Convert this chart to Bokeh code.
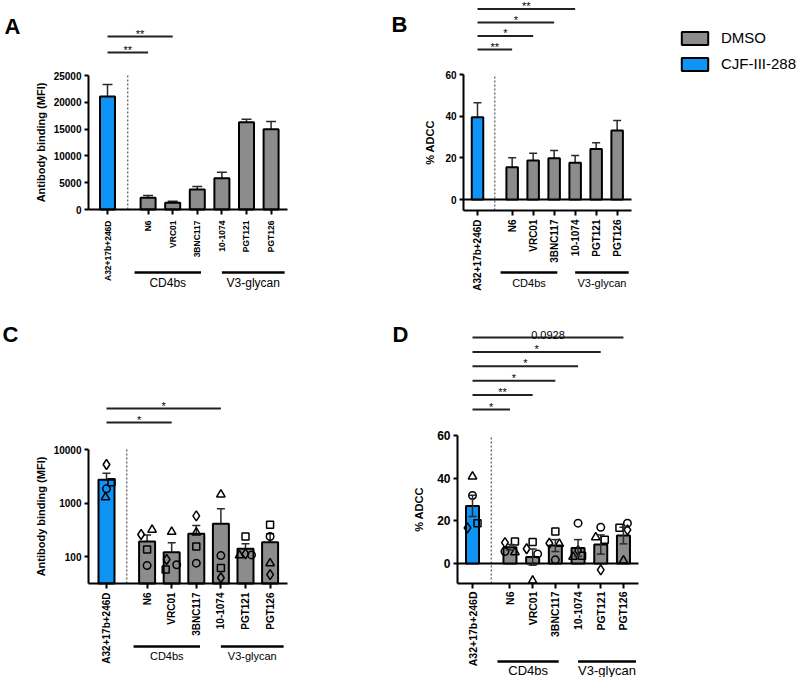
import math
from bokeh.plotting import figure
from bokeh.layouts import row, column
from bokeh.models import (Range1d, FixedTicker, LinearAxis, LogAxis, Whisker, TeeHead, Grid,
                          ColumnDataSource, Legend, LegendItem, NumeralTickFormatter)
from bokeh.core.properties import value
from bokeh.embed import file_html
from bokeh.resources import INLINE

# ---------------- data ----------------
categories = ["A32+17b+246D", "N6", "VRC01", "3BNC117", "10-1074", "PGT121", "PGT126"]
treatment = ["CJF-III-288", "DMSO", "DMSO", "DMSO", "DMSO", "DMSO", "DMSO"]
group_names = ["CD4bs", "V3-glycan"]
group_members = [["N6", "VRC01", "3BNC117"], ["10-1074", "PGT121", "PGT126"]]

# Panel A: antibody binding (MFI), mean + SEM
a_mean = [21080, 2180, 1240, 3730, 5850, 16290, 14990]
a_sem = [2240, 430, 310, 560, 1120, 560, 1430]
a_yticks = [0, 5000, 10000, 15000, 20000, 25000]
a_sig = [["N6", "**"], ["VRC01", "**"]]

# Panel B: % ADCC, mean + SEM
b_mean = [39.5, 15.5, 18.7, 19.8, 17.6, 24.3, 33.1]
b_sem = [6.9, 4.5, 3.5, 3.7, 3.5, 2.9, 4.8]
b_yticks = [0, 20, 40, 60]
b_sig = [["N6", "**"], ["VRC01", "*"], ["3BNC117", "*"], ["10-1074", "**"]]

# Panel C: antibody binding (MFI) per donor, log axis
c_mean = [2710, 190, 120, 265, 408, 139, 185]
c_sem = [895, 62, 60, 114, 370, 34, 81]
c_diamond = [5250, 258, 88, 575, 40, 112, 46]
c_square = [2450, 135, 57, 154, 61, 237, 391]
c_circle = [1840, 68, 70, 75, 104, 107, 237]
c_triangle = [1285, 316, 289, 281, 1442, 105, 75]
c_yticks = [100, 1000, 10000]
c_sig = [["VRC01", "*"], ["10-1074", "*"]]

# Panel D: % ADCC per donor
d_mean = [27.0, 7.6, 3.0, 8.4, 7.3, 8.9, 13.1]
d_sem = [5.0, 1.3, 3.8, 2.8, 3.9, 4.5, 3.9]
d_diamond = [16.7, 9.8, 6.9, 9.5, 6.0, -3.0, 15.8]
d_square = [18.9, 10.3, 10.1, 15.0, 3.6, 11.1, 16.7]
d_circle = [31.9, 5.6, 4.5, 1.7, 18.9, 17.0, 18.9]
d_triangle = [40.8, 5.3, -8.0, 9.2, 3.2, 12.3, 1.4]
d_yticks = [0, 20, 40, 60]
d_sig = [["N6", "*"], ["VRC01", "**"], ["3BNC117", "*"], ["10-1074", "*"],
         ["PGT121", "*"], ["PGT126", "0.0928"]]

# ---------------- style / layout ----------------
FONT = "Liberation Sans"
BLUE = "#0F93F4"
GRAY = "#8C8C8C"
COLORS = {"CJF-III-288": BLUE, "DMSO": GRAY}
MARKERS = [("diamond", 10), ("square", 7), ("circle", 7.5), ("triangle", 8.5)]

# horizontal jitter of donor points (px)
c_jitter = {"diamond": [0, -6, -5, 0, 0, 0, 0], "square": [5, 0, -6, 0, 0, 0, 0],
            "circle": [0, 0, 5, 0, 0, 6, 0], "triangle": [-1, 5, 0, 0, 0, -6, 0]}
d_jitter = {"diamond": [-5, -5, -6, -6, 0, 0, 4], "square": [5, 5, 0, 0, 4, 4, -4],
            "circle": [0, -5, 5, 0, 0, 0, 4], "triangle": [0, 5, 0, 4, -5, -5, 0]}


def txt(p, x, y, t, size, style="normal", align="center", baseline="middle", y_offset=0):
    p.text(x=x, y=y, text=t, text_font=value(FONT), text_font_size=value(size),
           text_font_style=style, text_align=align, text_baseline=baseline,
           text_color="black", y_offset=y_offset)


def style_axis(a, tick_size, label_size="11px"):
    a.axis_line_width = 2
    a.axis_line_color = "black"
    a.major_tick_line_width = 2
    a.major_tick_line_color = "black"
    a.major_tick_out = 4
    a.major_tick_in = 0
    a.minor_tick_line_color = None
    a.major_label_text_font = FONT
    a.major_label_text_font_style = "bold"
    a.major_label_text_font_size = tick_size
    a.major_label_text_color = "black"
    a.axis_label_text_font = FONT
    a.axis_label_text_font_style = "bold"
    a.axis_label_text_font_size = label_size
    a.axis_label_text_color = "black"


def build(cfg, mean, sem, sig, pts=None, jitter=None):
    x0, y0, W, H = cfg["box"]
    ax, ppx = cfg["ax"], cfg["ppx"]
    log = cfg["log"]
    yp0, yv0, ppy = cfg["yp0"], cfg["yv0"], cfg["ppy"]
    if log:
        p2v = lambda pg: 10 ** (yv0 + (yp0 - pg) / ppy)
    else:
        p2v = lambda pg: yv0 + (yp0 - pg) / ppy
    px2x = lambda pg: (pg - ax) / ppx

    xpos = [0.0] + [cfg["gap"] + i for i in range(len(categories) - 1)]
    pos = dict(zip(categories, xpos))

    p = figure(width=W, height=H, x_range=Range1d(px2x(x0), px2x(x0 + W)),
               y_range=Range1d(p2v(y0 + H), p2v(y0)),
               y_axis_type="log" if log else "linear",
               x_axis_location=None, y_axis_location=None,
               output_backend="svg", toolbar_location=None)
    p.min_border_left = p.min_border_right = p.min_border_top = p.min_border_bottom = 0
    p.outline_line_color = None
    p.background_fill_color = "white"
    p.border_fill_color = "white"
    for r in list(p.center) + list(p.renderers):
        if isinstance(r, Grid):
            r.visible = False
    p.grid.visible = False

    yloc = px2x(cfg["yaxis_px"])
    xend = px2x(cfg["xend_px"])
    ylo = p2v(cfg["xaxis_px"])
    yhi = max(cfg["yticks"])

    # y axis
    YA = LogAxis if log else LinearAxis
    ya = YA(fixed_location=yloc, bounds=(ylo, yhi),
            ticker=FixedTicker(ticks=cfg["yticks"], minor_ticks=[]),
            formatter=NumeralTickFormatter(format="0"),
            axis_label=cfg["ylabel"])
    style_axis(ya, cfg["ytick_size"])
    ya.major_label_standoff = 3
    ya.axis_label_standoff = cfg["ylabel_standoff"]
    p.add_layout(ya, "left")

    # x axis
    xa = LinearAxis(fixed_location=ylo, bounds=(yloc, xend),
                    ticker=FixedTicker(ticks=xpos, minor_ticks=[]),
                    major_label_overrides={xv: c for xv, c in zip(xpos, categories)},
                    major_label_orientation=math.pi / 2)
    style_axis(xa, cfg["xtick_size"])
    xa.major_tick_out = 5
    xa.major_label_standoff = cfg["xlabel_standoff"]
    p.add_layout(xa, "below")

    # dotted separator
    mid = (xpos[0] + xpos[1]) / 2
    p.segment(x0=[mid], y0=[ylo], x1=[mid], y1=[yhi], line_color="#333333",
              line_width=1, line_dash="2 2")

    bar_bottom = ylo if log else 0
    if cfg["zero_line"]:
        p.segment(x0=[yloc], y0=[0], x1=[xend], y1=[0], line_color="black", line_width=2)

    # error bars
    both = cfg["both_err"]
    upper = [m + s for m, s in zip(mean, sem)]
    lower = [m - s for m, s in zip(mean, sem)] if both else list(mean)
    wsrc = ColumnDataSource(dict(x=xpos, upper=upper, lower=lower))
    ec = "#2a2a2a"
    w = Whisker(source=wsrc, base="x", upper="upper", lower="lower",
                line_color=ec, line_width=1.5,
                upper_head=TeeHead(size=cfg["cap"], line_color=ec, line_width=1.5),
                lower_head=TeeHead(size=cfg["cap"], line_color=ec, line_width=1.5) if both else None,
                level="overlay" if both else "underlay")

    # bars per treatment
    bw = cfg["bar_px"] / ppx
    rends = {}
    for t in ["DMSO", "CJF-III-288"]:
        idx = [i for i, tt in enumerate(treatment) if tt == t]
        rends[t] = p.vbar(x=[xpos[i] for i in idx], top=[mean[i] for i in idx],
                          bottom=bar_bottom, width=bw, fill_color=COLORS[t],
                          line_color="black", line_width=2)
    p.add_layout(w)

    # donor points
    if pts is not None:
        for m, size in MARKERS:
            vals = pts[m]
            xs = [xpos[i] + jitter[m][i] / ppx for i in range(len(vals))]
            p.scatter(x=xs, y=vals, marker=m, size=size, fill_color=None,
                      line_color="black", line_width=1.5)

    # significance brackets
    for k, (target, lab) in enumerate(sig):
        yy = p2v(cfg["sig_base_px"] - k * cfg["sig_step_px"])
        p.segment(x0=[xpos[0]], y0=[yy], x1=[pos[target]], y1=[yy],
                  line_color="#222222", line_width=2)
        txt(p, [(xpos[0] + pos[target]) / 2], [yy], [lab], cfg["sig_size"],
            baseline="alphabetic", y_offset=-3)

    # group underlines and labels
    pads = [(-0.55, 0.15), (0.0, 0.55)]
    gy = p2v(cfg["xaxis_px"] + cfg["group_line_off"])
    gty = p2v(cfg["xaxis_px"] + cfg["group_text_off"])
    for name, members, (pl, pr) in zip(group_names, group_members, pads):
        xa0 = pos[members[0]] + pl
        xa1 = pos[members[-1]] + pr
        p.segment(x0=[xa0], y0=[gy], x1=[xa1], y1=[gy], line_color="black", line_width=2.5)
        txt(p, [(xa0 + xa1) / 2], [gty], [name], cfg["group_size"])

    # panel letter
    lx, ly = cfg["letter"]
    txt(p, [px2x(lx)], [p2v(ly)], [cfg["name"]], "22px", style="bold", align="left")
    return p, rends


cfgA = dict(name="A", box=(0, 0, 390, 320), ax=107, ppx=24.6, gap=1.65, log=False,
            yp0=209, yv0=0, ppy=134 / 25000, yaxis_px=88, xend_px=287, xaxis_px=209,
            yticks=a_yticks, ylabel="Antibody binding (MFI)", ytick_size="10px",
            xtick_size="8.5px", ylabel_standoff=4, xlabel_standoff=6, zero_line=False,
            both_err=False, cap=10, bar_px=15, sig_base_px=52, sig_step_px=16, sig_size="11px",
            group_line_off=63, group_text_off=73, group_size="12px", letter=(4, 26))
cfgB = dict(name="B", box=(390, 0, 409, 320), ax=477, ppx=21.0, gap=1.65, log=False,
            yp0=199, yv0=0, ppy=125 / 60, yaxis_px=463, xend_px=631, xaxis_px=210,
            yticks=b_yticks, ylabel="% ADCC", ytick_size="10px",
            xtick_size="10px", ylabel_standoff=6, xlabel_standoff=4, zero_line=True,
            both_err=False, cap=8, bar_px=11.5, sig_base_px=49, sig_step_px=13.5, sig_size="11px",
            group_line_off=62, group_text_off=72, group_size="11px", letter=(391, 24))
cfgC = dict(name="C", box=(0, 320, 390, 357), ax=106, ppx=24.6, gap=1.65, log=True,
            yp0=449, yv0=4, ppy=53.5, yaxis_px=88, xend_px=287, xaxis_px=583,
            yticks=c_yticks, ylabel="Antibody binding (MFI)", ytick_size="10px",
            xtick_size="10px", ylabel_standoff=4, xlabel_standoff=4, zero_line=False,
            both_err=False, cap=8, bar_px=16, sig_base_px=422, sig_step_px=14, sig_size="11px",
            group_line_off=63, group_text_off=72, group_size="11px", letter=(2, 334))
cfgD = dict(name="D", box=(390, 320, 409, 357), ax=472, ppx=22.7, gap=1.65, log=False,
            yp0=563, yv0=0, ppy=128 / 60, yaxis_px=457, xend_px=638, xaxis_px=583,
            yticks=d_yticks, ylabel="% ADCC", ytick_size="12px",
            xtick_size="10.5px", ylabel_standoff=9, xlabel_standoff=3, zero_line=True,
            both_err=True, cap=8, bar_px=13, sig_base_px=409, sig_step_px=14.4, sig_size="11px",
            group_line_off=78, group_text_off=87, group_size="13px", letter=(392, 334))

pA, _ = build(cfgA, a_mean, a_sem, a_sig)
pB, rB = build(cfgB, b_mean, b_sem, b_sig)
pC, _ = build(cfgC, c_mean, c_sem, c_sig,
              pts=dict(diamond=c_diamond, square=c_square, circle=c_circle, triangle=c_triangle),
              jitter=c_jitter)
pD, _ = build(cfgD, d_mean, d_sem, d_sig,
              pts=dict(diamond=d_diamond, square=d_square, circle=d_circle, triangle=d_triangle),
              jitter=d_jitter)

legend = Legend(items=[LegendItem(label="DMSO", renderers=[rB["DMSO"]]),
                       LegendItem(label="CJF-III-288", renderers=[rB["CJF-III-288"]])],
                location=(288, 248), orientation="vertical",
                glyph_width=33, glyph_height=16, label_height=16, spacing=9,
                padding=0, margin=0, label_standoff=10,
                label_text_font=FONT, label_text_font_size="15px", label_text_color="black",
                border_line_color=None, background_fill_alpha=0)
pB.add_layout(legend)

layout = column(row(pA, pB), row(pC, pD))
open("out.html", "w").write(file_html(layout, INLINE))
